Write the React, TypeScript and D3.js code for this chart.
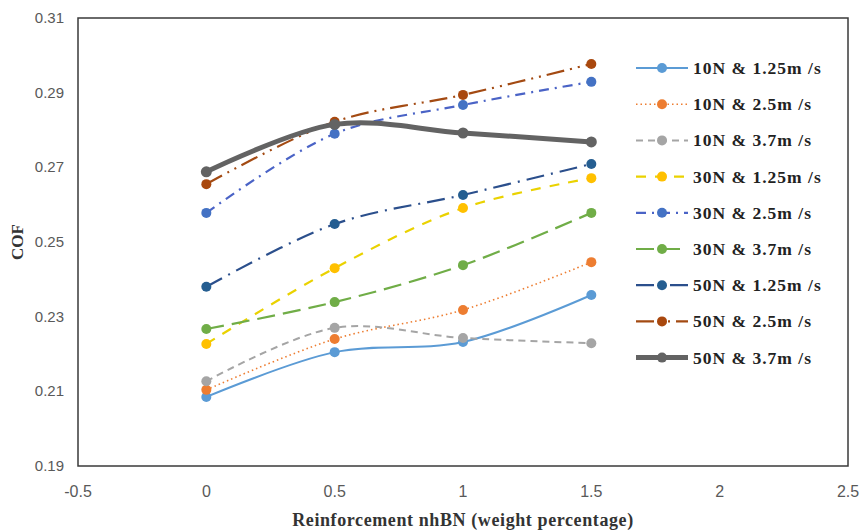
import React from "react";
import * as d3 from "d3";

const xValues = [0, 0.5, 1, 1.5];
const xTicks = [-0.5, 0, 0.5, 1, 1.5, 2, 2.5];
const yTicks = [0.19, 0.21, 0.23, 0.25, 0.27, 0.29, 0.31];

const seriesNames = [
  "10N & 1.25m /s",
  "10N & 2.5m /s",
  "10N & 3.7m /s",
  "30N & 1.25m /s",
  "30N & 2.5m /s",
  "30N & 3.7m /s",
  "50N & 1.25m /s",
  "50N & 2.5m /s",
  "50N & 3.7m /s",
];

const s10_125 = [0.2085, 0.2205, 0.2232, 0.2358];
const s10_25 = [0.2104, 0.224, 0.2318, 0.2446];
const s10_37 = [0.2127, 0.227, 0.2243, 0.2229];
const s30_125 = [0.2227, 0.243, 0.2591, 0.2671];
const s30_25 = [0.2578, 0.279, 0.2867, 0.2929];
const s30_37 = [0.2267, 0.2339, 0.2438, 0.2578];
const s50_125 = [0.238, 0.2548, 0.2626, 0.2709];
const s50_25 = [0.2655, 0.2822, 0.2894, 0.2977];
const s50_37 = [0.2688, 0.2815, 0.2792, 0.2768];

const seriesValues = [s10_125, s10_25, s10_37, s30_125, s30_25, s30_37, s50_125, s50_25, s50_37];

const styles = [
  { line: "#5B9BD5", marker: "#5B9BD5", width: 2, dash: "" },
  { line: "#ED7D31", marker: "#ED7D31", width: 1.6, dash: "1.5,3" },
  { line: "#A5A5A5", marker: "#A5A5A5", width: 2, dash: "7,5" },
  { line: "#EAD200", marker: "#FFC000", width: 2.2, dash: "10,9" },
  { line: "#4A63C6", marker: "#4472C4", width: 2.2, dash: "10,6,2,6" },
  { line: "#70AD47", marker: "#70AD47", width: 2.2, dash: "18,8" },
  { line: "#2B4F8C", marker: "#255E91", width: 2.2, dash: "18,7,2,7" },
  { line: "#A34A12", marker: "#A9480E", width: 2.2, dash: "18,6,2,6,2,6" },
  { line: "#636363", marker: "#636363", width: 5, dash: "" },
];

const W = 864;
const H = 531;
const left = 78;
const right = 848;
const top = 18;
const bottom = 466;

export default function App() {
  const x = d3.scaleLinear().domain([-0.5, 2.5]).range([left, right]);
  const y = d3.scaleLinear().domain([0.19, 0.31]).range([bottom, top]);
  const line = d3
    .line<number>()
    .x((_, i) => x(xValues[i]))
    .y((d) => y(d))
    .curve(d3.curveCatmullRom.alpha(0.5));

  const legendX0 = 636;
  const legendX1 = 688;
  const legendY0 = 68;
  const legendStep = 36.2;

  return (
    <svg
      width={W}
      height={H}
      style={{ position: "absolute", left: 0, top: 0, background: "#fff" }}
    >
      <rect x={0} y={0} width={W} height={H} fill="#fff" />
      <rect
        x={left}
        y={top}
        width={right - left}
        height={bottom - top}
        fill="none"
        stroke="#3a3a3a"
        strokeWidth={1.5}
      />
      {yTicks.map((t) => (
        <text
          key={"y" + t}
          x={64}
          y={y(t) + 5}
          textAnchor="end"
          fontFamily="Liberation Sans, Arial, sans-serif"
          fontSize={15}
          fill="#595959"
        >
          {t.toFixed(2)}
        </text>
      ))}
      {xTicks.map((t) => (
        <text
          key={"x" + t}
          x={x(t)}
          y={497}
          textAnchor="middle"
          fontFamily="Liberation Sans, Arial, sans-serif"
          fontSize={16}
          fill="#595959"
        >
          {String(t)}
        </text>
      ))}
      <text
        x={(left + right) / 2}
        y={526}
        textAnchor="middle"
        fontFamily="Liberation Serif, Times New Roman, serif"
        fontWeight="bold"
        fontSize={18}
        letterSpacing={0.6}
        fill="#333"
      >
        Reinforcement  nhBN (weight percentage)
      </text>
      <text
        transform={`translate(23, ${(top + bottom) / 2}) rotate(-90)`}
        textAnchor="middle"
        fontFamily="Liberation Serif, Times New Roman, serif"
        fontWeight="bold"
        fontSize={17}
        fill="#333"
      >
        COF
      </text>
      {seriesValues.map((vals, si) => {
        const st = styles[si];
        return (
          <g key={"s" + si}>
            <path
              d={line(vals) || ""}
              fill="none"
              stroke={st.line}
              strokeWidth={st.width}
              strokeDasharray={st.dash || undefined}
            />
            {vals.map((v, i) => (
              <circle
                key={i}
                cx={x(xValues[i])}
                cy={y(v)}
                r={si === 8 ? 5.5 : 5}
                fill={st.marker}
              />
            ))}
          </g>
        );
      })}
      {seriesNames.map((name, si) => {
        const st = styles[si];
        const ly = legendY0 + si * legendStep;
        return (
          <g key={"l" + si}>
            <line
              x1={legendX0}
              x2={legendX1}
              y1={ly}
              y2={ly}
              stroke={st.line}
              strokeWidth={st.width}
              strokeDasharray={st.dash || undefined}
            />
            <circle cx={(legendX0 + legendX1) / 2} cy={ly} r={5} fill={st.marker} />
            <text
              x={693}
              y={ly + 6}
              fontFamily="Liberation Serif, Times New Roman, serif"
              fontWeight="bold"
              fontSize={17.5}
              letterSpacing={1}
              fill="#222"
            >
              {name}
            </text>
          </g>
        );
      })}
    </svg>
  );
}
